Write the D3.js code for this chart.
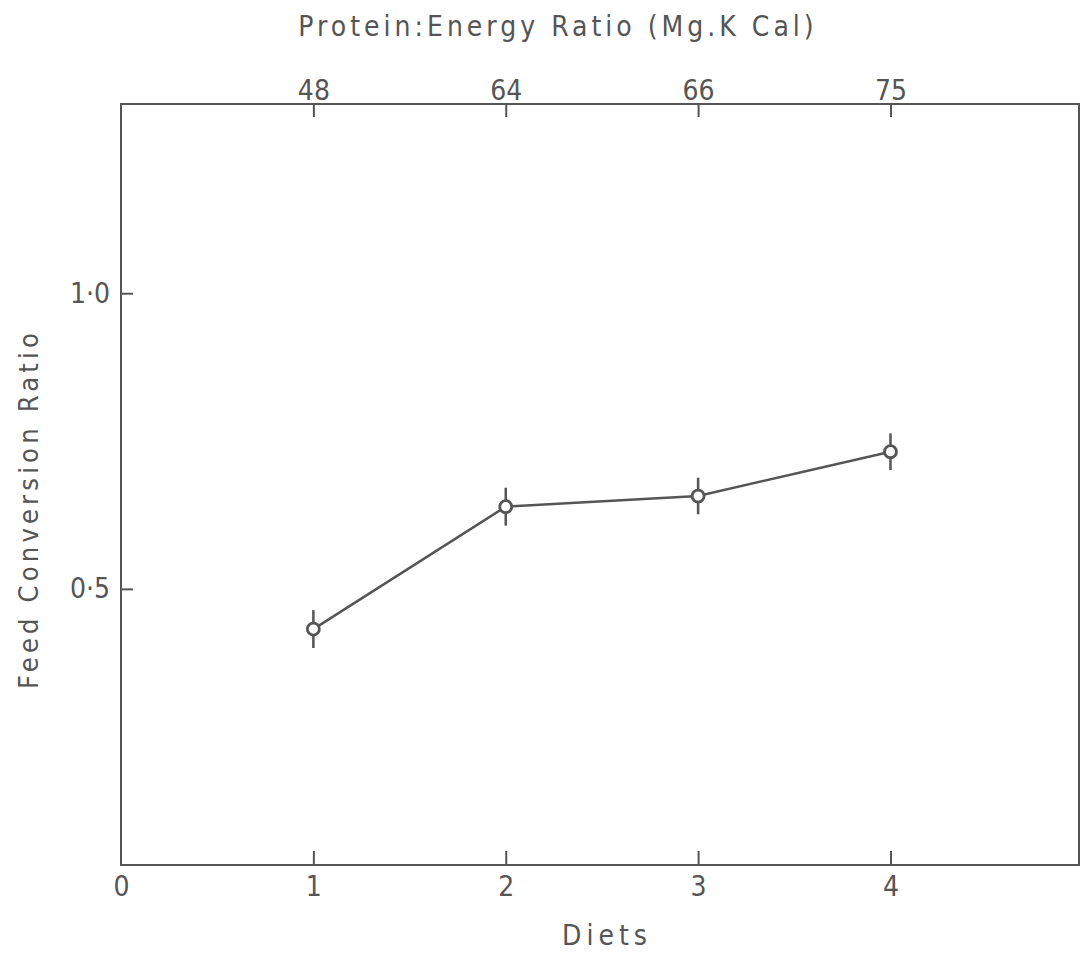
<!DOCTYPE html>
<html>
<head>
<meta charset="utf-8">
<script src="https://cdn.jsdelivr.net/npm/d3@7"></script>
<style>
  html, body { margin: 0; padding: 0; background: #fff; }
  svg text { font-family: "DejaVu Sans Condensed", "Liberation Sans Narrow", sans-serif; fill: #555; }
</style>
</head>
<body>
<svg id="chart" width="1089" height="953"></svg>
<script>
const diets = [1, 2, 3, 4];
const fcr = [0.432, 0.639, 0.657, 0.732];
const fcrErr = [0.032, 0.032, 0.031, 0.031];
const proteinEnergy = ["48", "64", "66", "75"];
const dietTicks = [0, 1, 2, 3, 4];
const yTicks = [0.5, 1.0];

(function () {
const svg = d3.select("#chart");
const mLeft = 121, mRight = 1079, mTop = 104, mBottom = 865;
const ink = "#555";
const FONT = '"DejaVu Sans Condensed", "Liberation Sans Narrow", sans-serif';

const x = d3.scaleLinear().domain([0, 4.98]).range([mLeft, mRight]);
const y = d3.scaleLinear().domain([0.033, 1.32]).range([mBottom, mTop]);

// frame
svg.append("rect")
  .attr("x", mLeft).attr("y", mTop)
  .attr("width", mRight - mLeft).attr("height", mBottom - mTop)
  .attr("fill", "none").attr("stroke", ink).attr("stroke-width", 2);

function styleAxis(g) {
  g.select(".domain").remove();
  g.selectAll(".tick line").attr("stroke", ink).attr("stroke-width", 2);
  g.selectAll(".tick text").attr("fill", ink).attr("font-size", 28)
    .attr("font-family", FONT);
}

// bottom axis
const gb = svg.append("g").attr("transform", `translate(0,${mBottom})`)
  .call(d3.axisBottom(x).tickValues(dietTicks).tickFormat(d3.format("d"))
    .tickSizeInner(-14).tickSizeOuter(0).tickPadding(11));
styleAxis(gb);
gb.selectAll(".tick").filter(d => d === 0).select("line").remove();

// top axis
const gt = svg.append("g").attr("transform", `translate(0,${mTop})`)
  .call(d3.axisTop(x).tickValues(diets).tickFormat((d, i) => proteinEnergy[i])
    .tickSizeInner(-13).tickSizeOuter(0).tickPadding(4));
styleAxis(gt);

// left axis
const gl = svg.append("g").attr("transform", `translate(${mLeft},0)`)
  .call(d3.axisLeft(y).tickValues(yTicks).tickFormat(d => d3.format(".1f")(d).replace(".", "·"))
    .tickSizeInner(-12).tickSizeOuter(0).tickPadding(11));
styleAxis(gl);

// axis titles
svg.append("text")
  .attr("x", 558).attr("y", 36)
  .attr("text-anchor", "middle").attr("font-size", 28).attr("letter-spacing", 4)
  .text("Protein:Energy Ratio (Mg.K Cal)");

svg.append("text")
  .attr("x", 607).attr("y", 945)
  .attr("text-anchor", "middle").attr("font-size", 28).attr("letter-spacing", 5)
  .text("Diets");

svg.append("text")
  .attr("transform", "translate(38,509) rotate(-90)")
  .attr("text-anchor", "middle").attr("font-size", 27).attr("letter-spacing", 4.2)
  .text("Feed Conversion Ratio");

// data line
const line = d3.line().x((d, i) => x(diets[i])).y(d => y(d));
svg.append("path").datum(fcr)
  .attr("d", line).attr("fill", "none")
  .attr("stroke", ink).attr("stroke-width", 2.5);

// error bars
svg.append("g").selectAll("line").data(fcr).join("line")
  .attr("x1", (d, i) => x(diets[i])).attr("x2", (d, i) => x(diets[i]))
  .attr("y1", (d, i) => y(d + fcrErr[i])).attr("y2", (d, i) => y(d - fcrErr[i]))
  .attr("stroke", ink).attr("stroke-width", 2.5);

// points
svg.append("g").selectAll("circle").data(fcr).join("circle")
  .attr("cx", (d, i) => x(diets[i])).attr("cy", d => y(d))
  .attr("r", 6).attr("fill", "#fff")
  .attr("stroke", ink).attr("stroke-width", 2.8);
})();
</script>
</body>
</html>
